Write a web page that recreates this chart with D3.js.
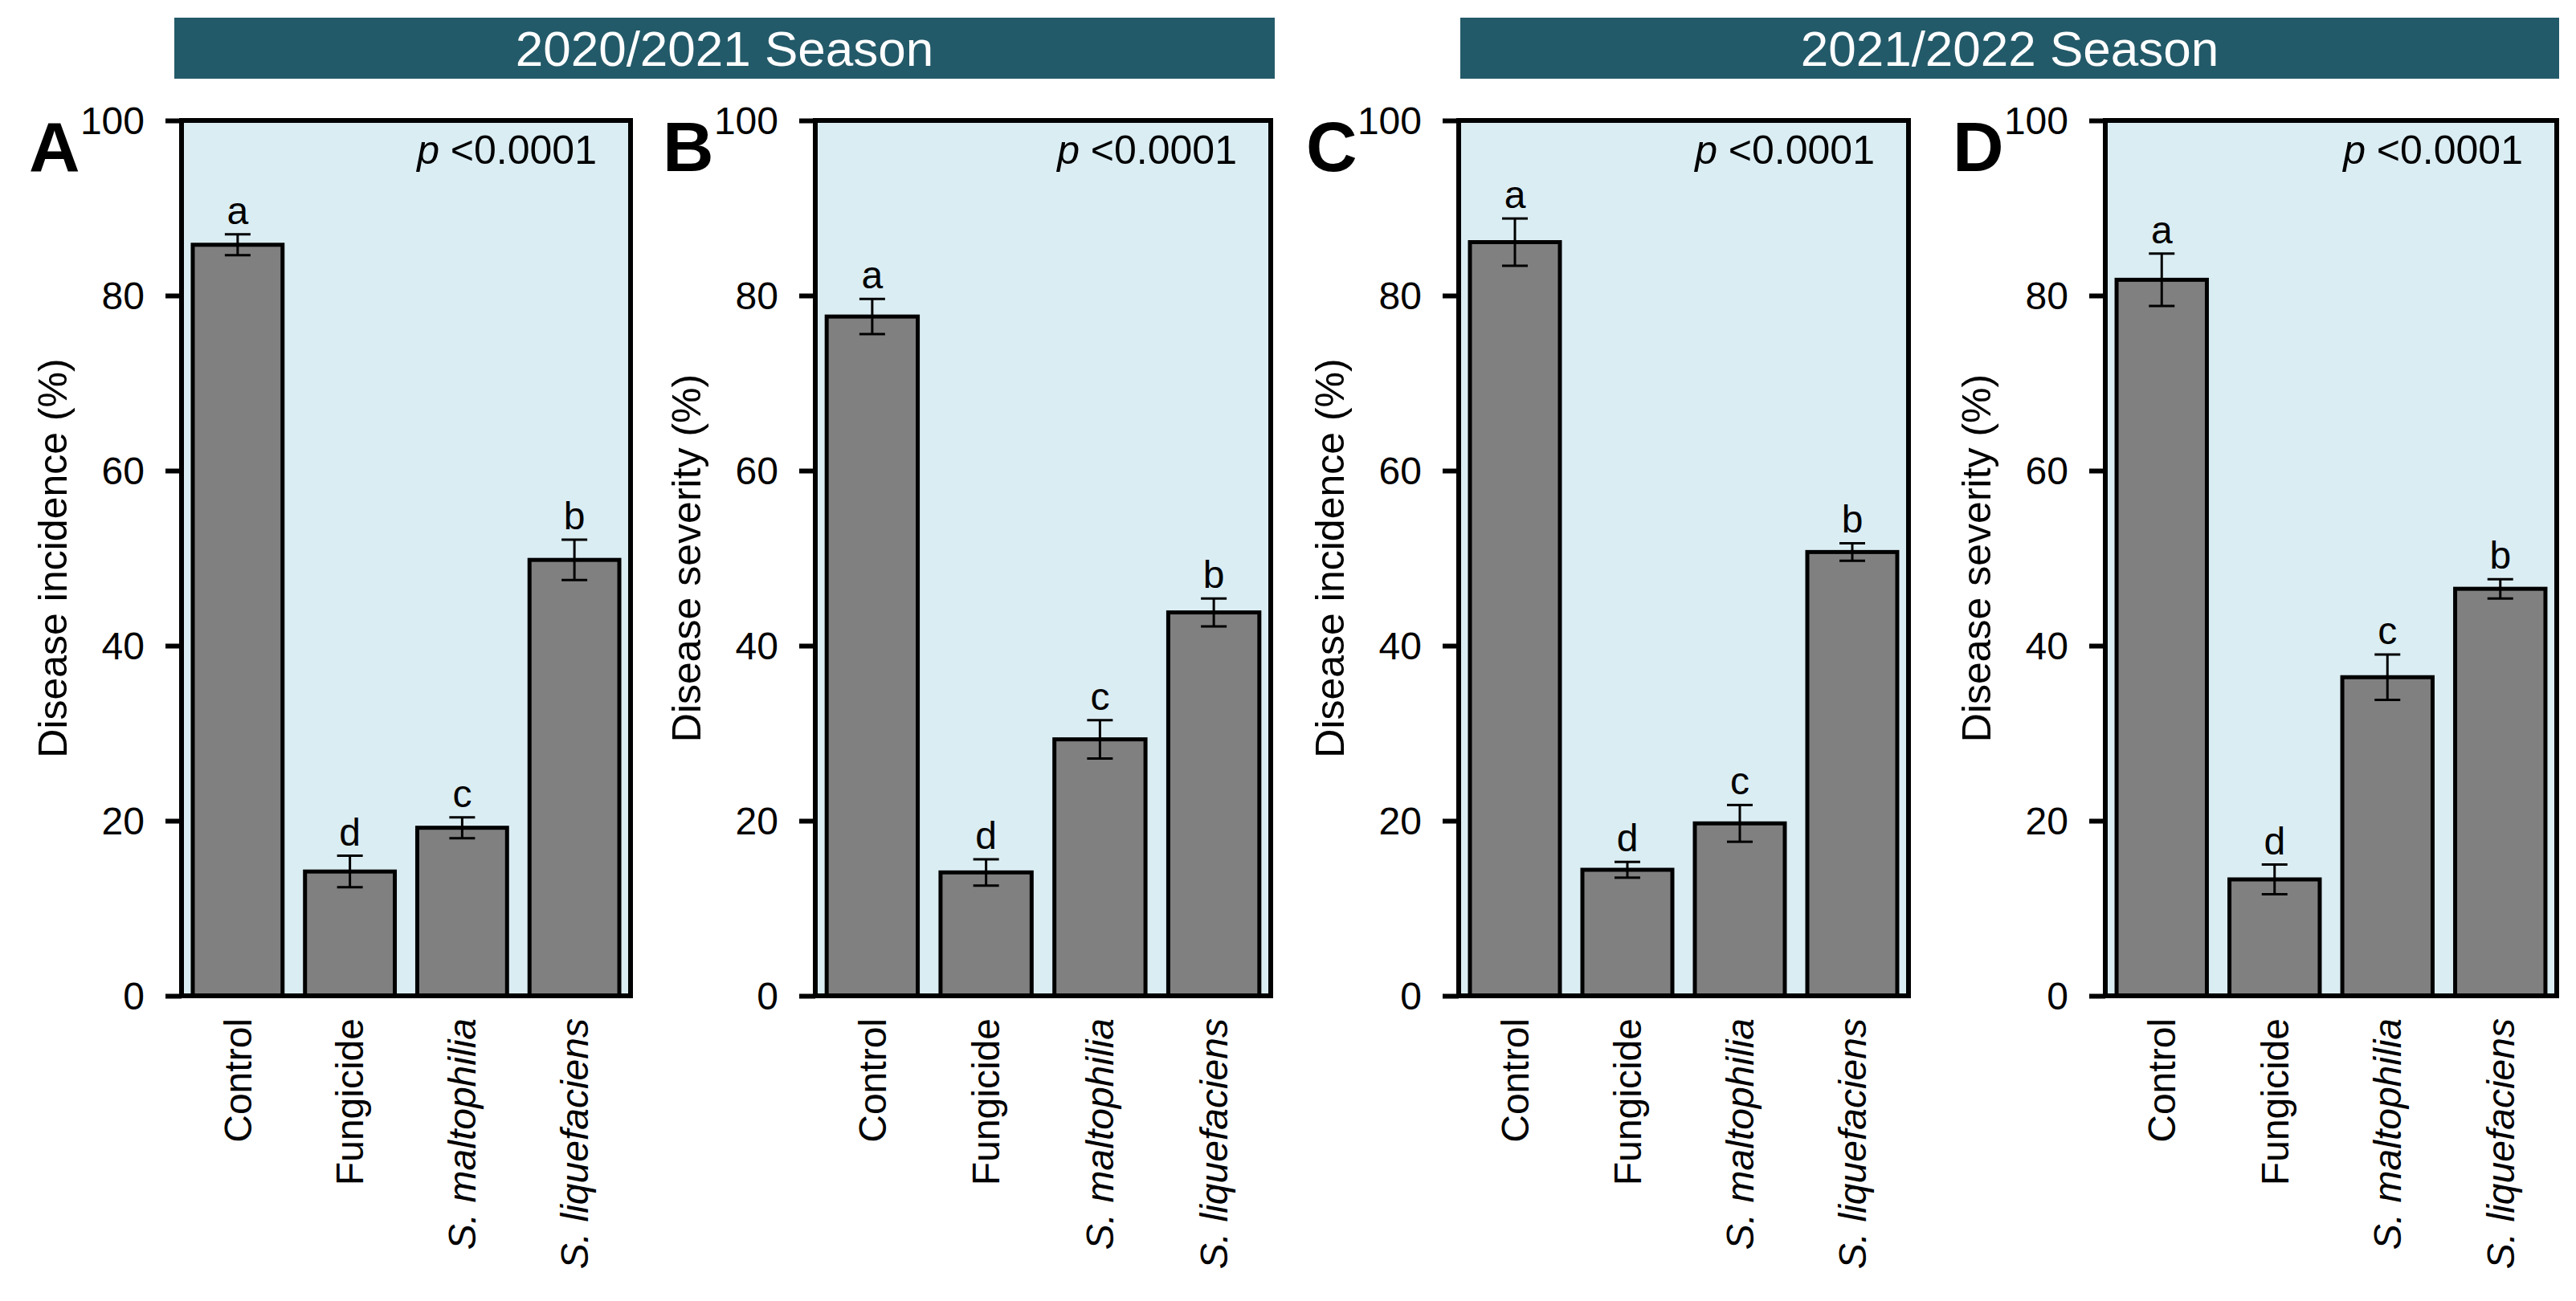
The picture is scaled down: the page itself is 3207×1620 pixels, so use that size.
<!DOCTYPE html>
<html>
<head>
    <title>Disease incidence and severity by treatment</title>
    <script src="https://cdnjs.cloudflare.com/ajax/libs/d3/7.8.5/d3.min.js"></script>
    <style>
        body { margin: 0; background: #fff; }
        svg { display: block; font-family: "Liberation Sans", Arial, sans-serif; }
        .tick text { font-size: 48px; fill: #000; }
        .tick line { stroke: #000; stroke-width: 6px; }
    </style>
</head>
<body>
    <div id="chart"></div>
    <script>
        // Data
        const categories = ["Control", "Fungicide", "S. maltophilia", "S. liquefaciens"];
        const seasons = ["2020/2021 Season", "2021/2022 Season"];
        const panelLetters = ["A", "B", "C", "D"];
        const yLabels = ["Disease incidence (%)", "Disease severity (%)", "Disease incidence (%)", "Disease severity (%)"];
        const yTicks = [0, 20, 40, 60, 80, 100];
        const pValue = "<0.0001";

        const meanA = [85.8, 14.2, 19.2, 49.8];
        const errA  = [1.2, 1.8, 1.2, 2.3];
        const meanB = [77.6, 14.1, 29.3, 43.8];
        const errB  = [2.0, 1.5, 2.2, 1.6];
        const meanC = [86.1, 14.4, 19.7, 50.7];
        const errC  = [2.7, 0.9, 2.1, 1.0];
        const meanD = [81.8, 13.3, 36.4, 46.5];
        const errD  = [3.0, 1.7, 2.6, 1.1];
        const groupLetters = ["a", "d", "c", "b"];

        const means = [meanA, meanB, meanC, meanD];
        const errs = [errA, errB, errC, errD];

        // Layout
        const W = 3207, H = 1620;
        const plotTop = 150, plotBottom = 1240;
        const panelX = [[226, 785], [1015, 1582], [1816, 2376], [2621, 3183]];
        const headerX = [[217, 1587], [1818, 3186]];

        const svg = d3.select("#chart")
            .append("svg")
                .attr("width", W)
                .attr("height", H);

        // Season header bars
        seasons.forEach((s, i) => {
            svg.append("rect")
                .attr("x", headerX[i][0])
                .attr("y", 22)
                .attr("width", headerX[i][1] - headerX[i][0])
                .attr("height", 76)
                .attr("fill", "#235a69");
            svg.append("text")
                .attr("x", (headerX[i][0] + headerX[i][1]) / 2)
                .attr("y", 82)
                .attr("text-anchor", "middle")
                .attr("fill", "#fff")
                .style("font-size", "62px")
                .text(s);
        });

        const y = d3.scaleLinear().domain([0, 100]).range([plotBottom, plotTop]);

        panelLetters.forEach((letter, p) => {
            const [x0, x1] = panelX[p];
            const x = d3.scaleBand()
                .domain(categories)
                .range([x0, x1])
                .paddingInner(0.2)
                .paddingOuter(0.1);

            const g = svg.append("g");

            // Plot background
            g.append("rect")
                .attr("x", x0)
                .attr("y", plotTop)
                .attr("width", x1 - x0)
                .attr("height", plotBottom - plotTop)
                .attr("fill", "#daedf3");

            const rows = categories.map((c, i) => ({cat: c, v: means[p][i], e: errs[p][i], grp: groupLetters[i]}));

            // Bars
            g.selectAll("rect.bar")
                .data(rows)
                .enter()
                .append("rect")
                .attr("class", "bar")
                .attr("x", d => x(d.cat))
                .attr("y", d => y(d.v))
                .attr("width", x.bandwidth())
                .attr("height", d => y(0) - y(d.v))
                .attr("fill", "#808080")
                .attr("stroke", "#000")
                .attr("stroke-width", 5);

            // Error bars
            const cap = 16;
            const eb = g.selectAll("g.err")
                .data(rows)
                .enter()
                .append("g")
                .attr("class", "err")
                .attr("stroke", "#000")
                .attr("stroke-width", 3);
            eb.append("line")
                .attr("x1", d => x(d.cat) + x.bandwidth() / 2)
                .attr("x2", d => x(d.cat) + x.bandwidth() / 2)
                .attr("y1", d => y(d.v + d.e))
                .attr("y2", d => y(d.v - d.e));
            eb.append("line")
                .attr("x1", d => x(d.cat) + x.bandwidth() / 2 - cap)
                .attr("x2", d => x(d.cat) + x.bandwidth() / 2 + cap)
                .attr("y1", d => y(d.v + d.e))
                .attr("y2", d => y(d.v + d.e));
            eb.append("line")
                .attr("x1", d => x(d.cat) + x.bandwidth() / 2 - cap)
                .attr("x2", d => x(d.cat) + x.bandwidth() / 2 + cap)
                .attr("y1", d => y(d.v - d.e))
                .attr("y2", d => y(d.v - d.e));

            // Significance letters
            g.selectAll("text.grp")
                .data(rows)
                .enter()
                .append("text")
                .attr("class", "grp")
                .attr("x", d => x(d.cat) + x.bandwidth() / 2)
                .attr("y", d => y(d.v + d.e) - 13)
                .attr("text-anchor", "middle")
                .style("font-size", "48px")
                .text(d => d.grp);

            // Frame
            g.append("rect")
                .attr("x", x0)
                .attr("y", plotTop)
                .attr("width", x1 - x0)
                .attr("height", plotBottom - plotTop)
                .attr("fill", "none")
                .attr("stroke", "#000")
                .attr("stroke-width", 6);

            // Y axis
            const yAxis = g.append("g")
                .attr("transform", `translate(${x0},0)`)
                .call(d3.axisLeft(y).tickValues(yTicks).tickSize(20).tickPadding(26));
            yAxis.select(".domain").remove();
            yAxis.selectAll(".tick text").attr("dy", "0.35em");

            // X labels (rotated)
            g.selectAll("text.xlab")
                .data(categories)
                .enter()
                .append("text")
                .attr("class", "xlab")
                .attr("transform", d => `translate(${x(d) + x.bandwidth() / 2},1268) rotate(-90)`)
                .attr("dy", "0.35em")
                .attr("text-anchor", "end")
                .style("font-size", "48px")
                .style("font-style", d => d.startsWith("S.") ? "italic" : "normal")
                .text(d => d);

            // Y axis title
            g.append("text")
                .attr("transform", `translate(${x0 - 161},${(plotTop + plotBottom) / 2}) rotate(-90)`)
                .attr("dy", "0.35em")
                .attr("text-anchor", "middle")
                .style("font-size", "50px")
                .text(yLabels[p]);

            // Panel letter
            g.append("text")
                .attr("x", x0 - 190)
                .attr("y", 213)
                .style("font-size", "88px")
                .style("font-weight", "bold")
                .text(letter);

            // p value
            const pt = g.append("text")
                .attr("x", x1 - 42)
                .attr("y", 204)
                .attr("text-anchor", "end")
                .style("font-size", "50px");
            pt.append("tspan").style("font-style", "italic").text("p");
            pt.append("tspan").text(" " + pValue);
        });
    </script>
</body>
</html>
